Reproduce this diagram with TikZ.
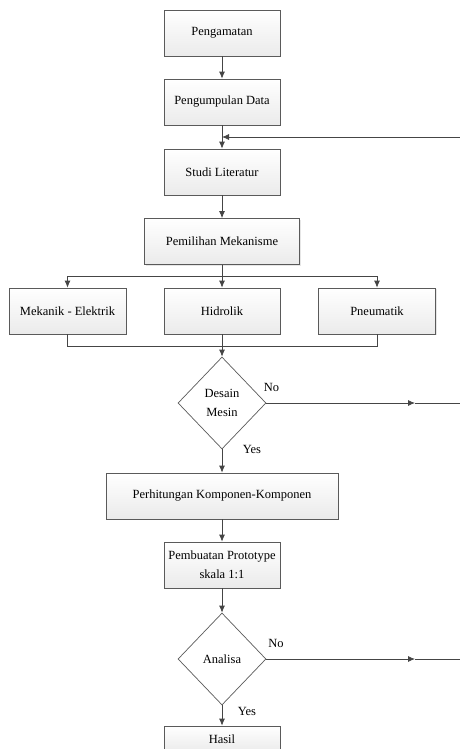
\documentclass[tikz,border=0pt]{standalone}
\usepackage{fontspec}
\setmainfont{Liberation Serif}
\usepackage{tikz}
\usetikzlibrary{shapes,arrows.meta,calc,shadows}
\definecolor{linegray}{HTML}{454545}
\definecolor{boxgray}{HTML}{5A5A5A}
\tikzstyle{line} = [draw=linegray, line width=0.8pt, -{Latex[length=7pt,width=6pt]}]
\tikzstyle{block} = [draw=boxgray, line width=0.7pt, rectangle, text centered, minimum height=46pt, minimum width=116pt,
  top color=white, bottom color=gray!16, drop shadow={shadow xshift=1.2pt, shadow yshift=-1.2pt, opacity=0.2}]
\tikzstyle{decision} = [draw=boxgray, line width=0.7pt, diamond, text centered, align=center, inner sep=0pt,
  minimum width=88pt, minimum height=92pt]
\tikzstyle{answer} = [inner sep=1pt]

\begin{document}
\begin{tikzpicture}[x=1pt, y=-1pt, node distance=69.5pt, font=\fontsize{12.5pt}{15pt}\selectfont]
        \useasboundingbox (0,0) rectangle (460,749);
        \node[block] (origin) at (222,33) {Pengamatan};
        \node[block, below of=origin, node distance=69pt] (collect) {Pengumpulan Data};
        \node[block, below of=collect, node distance=70pt] (study) {Studi Literatur};
        \node[block, below of=study, minimum width=155pt] (select) {Pemilihan Mekanisme};
        \node[block, below of=select] (hydro) {Hidrolik};
        \node[block, left of=hydro, node distance=154.5pt, minimum width=117pt] (mech) {Mekanik - Elektrik};
        \node[block, right of=hydro, node distance=155pt, minimum width=117pt] (pneu) {Pneumatik};
        \node[decision, below of=hydro, node distance=92pt] (design) {Desain\\[4pt]Mesin};
        \node[block, below of=design, node distance=93pt, minimum width=232pt] (calc) {Perhitungan Komponen-Komponen};
        \node[block, below of=calc, node distance=69pt, align=center] (proto) {Pembuatan Prototype\\[4pt]skala 1:1};
        \node[decision, below of=proto, node distance=94pt] (analysis) {Analisa};
        \node[block, below of=analysis, node distance=80pt, minimum height=26pt] (result) {Hasil};
        \coordinate (fbEnd) at (460,137);
        \coordinate (fbIn) at (collect.south |- fbEnd);
        \coordinate (split) at (222,276);
        \coordinate (merge) at (222,346);
        \coordinate (noA) at (415,403);
        \coordinate (noAEnd) at (460,403);
        \coordinate (noB) at (415,659);
        \coordinate (noBEnd) at (460,659);
        \path[line] (origin) -- (collect);
        \path[line] (collect) -- (study);
        \path[line] (fbEnd) -- (fbIn);
        \path[line] (study) -- (select);
        \path[line] (select) -- (hydro);
        \path[line] (split) -| (mech);
        \path[line] (split) -| (pneu);
        \draw[linegray, line width=0.8pt] (mech.south) |- (merge);
        \draw[linegray, line width=0.8pt] (pneu.south) |- (merge);
        \path[line] (hydro) -- (design);
        \path[line] (design) -- (noA);
        \draw[linegray, line width=0.8pt] (noA) -- (noAEnd);
        \path[line] (design) -- (calc);
        \path[line] (calc) -- (proto);
        \path[line] (proto) -- (analysis);
        \path[line] (analysis) -- (noB);
        \draw[linegray, line width=0.8pt] (noB) -- (noBEnd);
        \path[line] (analysis) -- (result);
        \node[answer] (noDesign) at (271.5,387) {No};
        \node[answer] (yesDesign) at (252,449) {Yes};
        \node[answer] (noAnalysis) at (276,643) {No};
        \node[answer] (yesAnalysis) at (247,711) {Yes};
    \end{tikzpicture}
\end{document}
